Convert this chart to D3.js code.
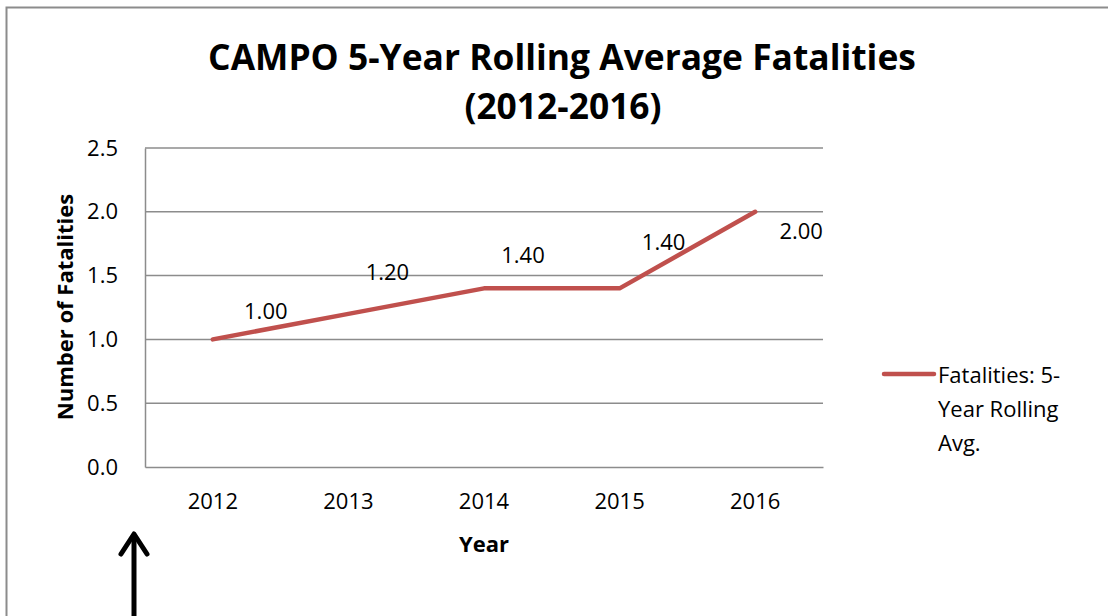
<!DOCTYPE html>
<html><head><meta charset="utf-8">
<script src="https://cdn.jsdelivr.net/npm/d3@7"></script>
<style>body{margin:0;background:#fff}svg{display:block}text{font-family:"Open Sans","Noto Sans",sans-serif}</style>
</head><body><svg id="c" width="1108" height="616"></svg>
<script>
const categories = ["2012","2013","2014","2015","2016"];
const values = [1.00, 1.20, 1.40, 1.40, 2.00];
const yTicks = [0, 0.5, 1.0, 1.5, 2.0, 2.5];
const titleLines = ["CAMPO 5-Year Rolling Average Fatalities", "(2012-2016)"];
const seriesName = ["Fatalities: 5-", "Year Rolling", "Avg."];
// layout-only label offsets (px) mimicking the reference's label placement
const labelOffsets = [[53,-29],[39,-43],[39,-34],[44,-47],[46,18]];

const svg = d3.select("#c");
const color = "#C0504D";
const fs = 22;
const m = {left:145, top:148, right:823, bottom:467};

// outer border
svg.append("rect").attr("x",6.5).attr("y",7.5).attr("width",1120).attr("height",640)
  .attr("fill","none").attr("stroke","#8c8c8c").attr("stroke-width",2);

function fitText(sel, w){
  const l = sel.node().getComputedTextLength();
  const f = parseFloat(sel.attr("font-size"));
  sel.attr("font-size", f*w/l);
}

const x = d3.scaleBand().domain(categories).range([m.left,m.right]);
const y = d3.scaleLinear().domain([0,2.5]).range([m.bottom,m.top]);

// gridlines
svg.append("g").selectAll("line").data(yTicks.filter(d=>d>0)).join("line")
  .attr("x1",m.left).attr("x2",m.right).attr("y1",d=>y(d)).attr("y2",d=>y(d))
  .attr("stroke","#8c8c8c").attr("stroke-width",1.5);

// axes
const yAxis = svg.append("g").attr("transform",`translate(${m.left},0)`)
  .call(d3.axisLeft(y).tickValues(yTicks).tickFormat(d3.format(".1f")).tickSize(0).tickPadding(27));
yAxis.select(".domain").attr("stroke","#8c8c8c").attr("stroke-width",1.5);
yAxis.selectAll("text").attr("font-size",fs).attr("fill","#000").attr("font-family","Open Sans, sans-serif");

const xAxis = svg.append("g").attr("transform",`translate(0,${m.bottom})`)
  .call(d3.axisBottom(x).tickSize(0).tickPadding(26));
xAxis.select(".domain").attr("stroke","#8c8c8c").attr("stroke-width",1.5);
xAxis.selectAll("text").attr("font-size",fs).attr("fill","#000").attr("font-family","Open Sans, sans-serif");

// line
const line = d3.line().x((d,i)=>x(categories[i])+x.bandwidth()/2).y(d=>y(d));
svg.append("path").datum(values).attr("d",line).attr("fill","none")
  .attr("stroke",color).attr("stroke-width",4.5).attr("stroke-linecap","round").attr("stroke-linejoin","round");

// data labels
svg.append("g").selectAll("text").data(values).join("text")
  .attr("x",(d,i)=>x(categories[i])+x.bandwidth()/2+labelOffsets[i][0])
  .attr("y",(d,i)=>y(d)+labelOffsets[i][1])
  .attr("text-anchor","middle").attr("dominant-baseline","central")
  .attr("font-size",fs).text(d=>d3.format(".2f")(d));

// title
const t1 = svg.append("text").attr("x",562).attr("y",70).attr("text-anchor","middle")
  .attr("font-weight","bold").attr("font-size",34).text(titleLines[0]);
fitText(t1, 708);
const t2 = svg.append("text").attr("x",563).attr("y",119).attr("text-anchor","middle")
  .attr("font-weight","bold").attr("font-size",t1.attr("font-size")).text(titleLines[1]);

// axis titles
svg.append("text").attr("x",484).attr("y",552).attr("text-anchor","middle")
  .attr("font-weight","bold").attr("font-size",fs).text("Year");
svg.append("text").attr("transform","translate(73,307) rotate(-90)").attr("text-anchor","middle")
  .attr("font-weight","bold").attr("font-size",fs).text("Number of Fatalities");

// legend
svg.append("line").attr("x1",884).attr("x2",934).attr("y1",374).attr("y2",374)
  .attr("stroke",color).attr("stroke-width",4.5).attr("stroke-linecap","round");
svg.append("g").selectAll("text").data(seriesName).join("text")
  .attr("x",938).attr("y",(d,i)=>374+i*34).attr("dominant-baseline","central")
  .attr("font-size",fs).text(d=>d);

// arrow
svg.append("line").attr("x1",134).attr("x2",134).attr("y1",536).attr("y2",620)
  .attr("stroke","#000").attr("stroke-width",5);
svg.append("path").attr("d","M121,554 L134,534 L147,554").attr("fill","none")
  .attr("stroke","#000").attr("stroke-width",5).attr("stroke-linecap","round").attr("stroke-linejoin","round");
</script></body></html>
